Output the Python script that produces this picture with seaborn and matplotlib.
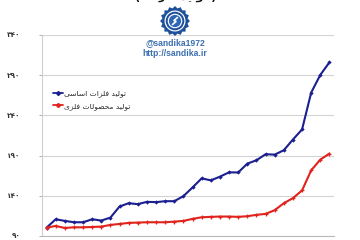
import numpy as np
import pandas as pd
import matplotlib
matplotlib.use("Agg")
import matplotlib.pyplot as plt
import matplotlib.patches as mpatches
from matplotlib.lines import Line2D
import seaborn as sns

# ---------------- data ----------------
periods = list(range(1, 33))
basic_metals = [100.4, 110.8, 108.8, 107.1, 107.1, 110.8, 109.2, 112.9, 126.7, 130.8,
                129.6, 132.5, 132.1, 133.3, 133.3, 139.6, 150.4, 161.7, 159.2, 163.8,
                169.2, 169.0, 180.0, 184.2, 191.7, 191.2, 196.7, 210.0, 222.5, 268.4,
                290.4, 306.0]
metal_products = [100.4, 102.5, 100.0, 100.8, 100.8, 101.2, 101.7, 103.8, 105.0, 106.3,
                  106.7, 107.1, 107.1, 107.1, 107.9, 108.8, 111.3, 113.3, 113.8, 114.2,
                  114.2, 113.8, 114.6, 116.3, 117.5, 122.1, 130.8, 137.1, 146.7, 171.7,
                  185.0, 192.5]
series_names = ["تولید فلزات اساسی", "تولید محصولات فلزی"]
yticks = [90, 140, 190, 240, 290, 340]
ytick_labels = ["۹۰", "۱۴۰", "۱۹۰", "۲۴۰", "۲۹۰", "۳۴۰"]
title_text = "( تولید فلزات )"
handle_text = "@sandika1972"
site_text = "http://sandika.ir"

# ---------------- simple Persian shaping (presentation forms) ----------------
FORMS = {
    'ت': ('\uFE95', '\uFE96', '\uFE97', '\uFE98'),
    'و': ('\uFEED', '\uFEEE', None, None),
    'ل': ('\uFEDD', '\uFEDE', '\uFEDF', '\uFEE0'),
    'ی': ('\uFBFC', '\uFBFD', '\uFBFE', '\uFBFF'),
    'د': ('\uFEA9', '\uFEAA', None, None),
    'ف': ('\uFED1', '\uFED2', '\uFED3', '\uFED4'),
    'ز': ('\uFEAF', '\uFEB0', None, None),
    'ا': ('\uFE8D', '\uFE8E', None, None),
    'س': ('\uFEB1', '\uFEB2', '\uFEB3', '\uFEB4'),
    'م': ('\uFEE1', '\uFEE2', '\uFEE3', '\uFEE4'),
    'ح': ('\uFEA1', '\uFEA2', '\uFEA3', '\uFEA4'),
    'ص': ('\uFEB9', '\uFEBA', '\uFEBB', '\uFEBC'),
}


def shape(s):
    out = []
    for i, c in enumerate(s):
        if c not in FORMS:
            out.append(c)
            continue
        prev = s[i - 1] if i > 0 else None
        nxt = s[i + 1] if i + 1 < len(s) else None
        jp = prev in FORMS and FORMS[prev][2] is not None
        jn = nxt in FORMS and FORMS[c][2] is not None
        if jp:
            idx = 3 if jn else 1
        else:
            idx = 2 if jn else 0
        out.append(FORMS[c][idx])
    res = ''.join(reversed(out))
    return res.replace('(', '\0').replace(')', '(').replace('\0', ')')


# ---------------- plot ----------------
sns.set_theme(style="white")
plt.rcParams['font.family'] = ['DejaVu Sans']

df = pd.DataFrame({
    "period": periods * 2,
    "value": basic_metals + metal_products,
    "series": [series_names[0]] * len(periods) + [series_names[1]] * len(periods),
})

blue = "#1b1f8f"
red = "#e0231d"

fig = plt.figure(figsize=(3.6, 2.4), dpi=100)
ax = fig.add_axes([42 / 360, 4 / 240, 292 / 360, 201 / 240])

sns.lineplot(data=df[df.series == series_names[0]], x="period", y="value",
             color=blue, lw=1.5, marker="D", markersize=2.2, markeredgewidth=0,
             ax=ax, legend=False)
sns.lineplot(data=df[df.series == series_names[1]], x="period", y="value",
             color=red, lw=1.5, marker="P", markersize=2.8, markeredgewidth=0,
             ax=ax, legend=False)

ax.set_xlim(periods[0] - 0.5, periods[-1] + 0.5)
ax.set_ylim(yticks[0], yticks[-1])
ax.set_yticks(yticks)
ax.set_yticklabels(ytick_labels, fontsize=5.2, fontweight="bold", color="#333333")
ax.set_xticks([p - 0.5 for p in periods] + [periods[-1] + 0.5])
ax.set_xticklabels([])
ax.tick_params(axis="x", length=2.5, width=0.6, color="#a0a0a0", direction="out")
ax.tick_params(axis="y", length=2.5, width=0.6, color="#a0a0a0", pad=13, left=True)
ax.set_xlabel("")
ax.set_ylabel("")
ax.grid(axis="y", color="#d4d4d4", lw=0.8)
ax.set_axisbelow(True)
for s in ["top", "right"]:
    ax.spines[s].set_visible(False)
ax.spines["left"].set_color("#cfcfcf")
ax.spines["left"].set_linewidth(0.8)
ax.spines["bottom"].set_color("#b8b8b8")
ax.spines["bottom"].set_linewidth(0.8)

handles = [Line2D([0], [0], color=blue, lw=1.3, marker="D", markersize=2),
           Line2D([0], [0], color=red, lw=1.3, marker="P", markersize=2.5)]
leg = ax.legend(handles, [shape(n) for n in series_names], loc="upper left",
                bbox_to_anchor=(0.015, 0.76), frameon=False, fontsize=5.4,
                handlelength=1.3, handletextpad=0.2, labelspacing=0.75)

# ---------------- overlay: logo, watermark texts, cropped title ----------------
ov = fig.add_axes([0, 0, 1, 1], zorder=5)
ov.set_xlim(0, 360)
ov.set_ylim(240, 0)
ov.axis("off")
ov.patch.set_alpha(0)

cx, cy = 175, 21
n = 16
ang = np.linspace(0, 2 * np.pi, 2 * n, endpoint=False)
rad = np.where(np.arange(2 * n) % 2 == 0, 14, 12)
gear = np.column_stack([cx + rad * np.cos(ang), cy + rad * np.sin(ang)])
ov.add_patch(mpatches.Polygon(gear, closed=True, color="#1d4f9a"))
ov.add_patch(mpatches.Circle((cx, cy), 9.8, color="white"))
ov.add_patch(mpatches.Circle((cx, cy), 8.6, color="#1d4f9a"))
ov.add_patch(mpatches.Circle((cx, cy), 6.6, color="white"))
ov.add_patch(mpatches.Circle((cx, cy), 5.4, color="#2c66b5"))
ov.plot([cx - 2.5, cx + 1, cx - 1, cx + 2.5], [cy + 3.5, cy + 0.5, cy - 0.5, cy - 3.5],
        color="white", lw=1.2, solid_capstyle="round")

ov.text(175, 43, handle_text, ha="center", va="center", fontsize=6.2,
        fontweight="bold", color="#3b6fae", family="Liberation Sans")
ov.text(175, 54, site_text, ha="center", va="center", fontsize=6.2,
        fontweight="bold", color="#3b6fae", family="Liberation Sans")
ov.text(176, 1.5, shape(title_text), ha="center", va="bottom", fontsize=8,
        fontweight="bold", color="#111111")

fig.savefig("out.png", dpi=100)
